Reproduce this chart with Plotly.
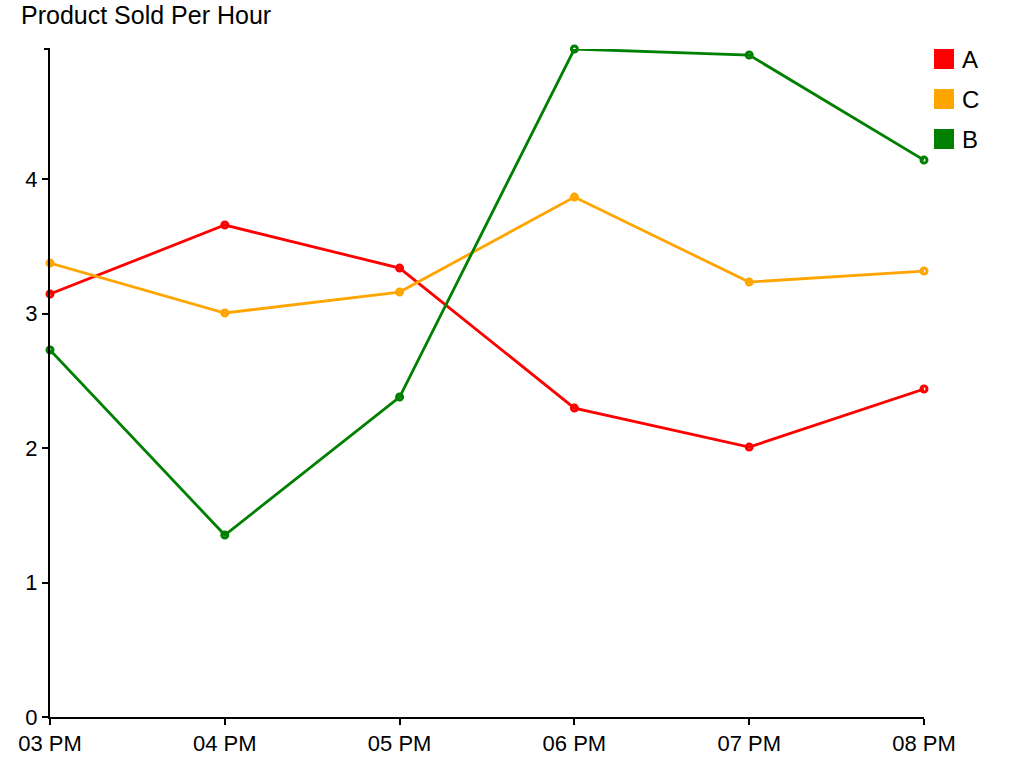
import plotly.graph_objects as go

hours = ["03 PM", "04 PM", "05 PM", "06 PM", "07 PM", "08 PM"]
series_names = ["A", "C", "B"]
values_a = [3.145, 3.658, 3.338, 2.297, 2.007, 2.439]
values_c = [3.375, 3.004, 3.160, 3.866, 3.234, 3.316]
values_b = [2.729, 1.353, 2.379, 4.967, 4.922, 4.141]
colors = ["#ff0000", "#ffa500", "#008000"]
y_ticks = [0, 1, 2, 3, 4]

all_vals = [values_a, values_c, values_b]
xs = list(range(len(hours)))

fig = go.Figure()
# markers underneath lines
for name, vals, col in zip(series_names, all_vals, colors):
    fig.add_trace(go.Scatter(
        x=xs, y=vals, mode="markers", showlegend=False, cliponaxis=False,
        marker=dict(symbol="circle", size=6, color="white", line=dict(color=col, width=3)),
        hoverinfo="skip"))
for name, vals, col in zip(series_names, all_vals, colors):
    fig.add_trace(go.Scatter(
        x=xs, y=vals, mode="lines", name=name, showlegend=False, cliponaxis=False,
        line=dict(color=col, width=2.8)))

shapes = []
annotations = []
# y-axis outer tick at top of domain
shapes.append(dict(type="line", xref="paper", yref="paper", xsizemode="pixel", xanchor=0,
                   x0=-6, x1=0, y0=1, y1=1, line=dict(color="black", width=2)))
# legend
for i, (name, col) in enumerate(zip(series_names, colors)):
    off = 40 * i
    shapes.append(dict(type="rect", xref="paper", yref="paper",
                       xsizemode="pixel", ysizemode="pixel", xanchor=1, yanchor=1,
                       x0=10, x1=30, y0=-off, y1=-(off + 20),
                       fillcolor=col, line=dict(width=0)))
    annotations.append(dict(text=name, xref="paper", yref="paper", x=1, y=1,
                            xshift=36, yshift=-off - 10, xanchor="left", yanchor="middle",
                            showarrow=False, font=dict(size=24, color="black")))

fig.update_layout(
    width=1024, height=768,
    margin=dict(l=50, r=100, t=49, b=51),
    paper_bgcolor="white", plot_bgcolor="white",
    font=dict(family="Liberation Sans, Arial, sans-serif", color="black", size=18),
    title=dict(text="Product Sold Per Hour", x=21 / 1024, xanchor="left", y=1 - 15 / 768, yanchor="middle",
               font=dict(size=25, color="black")),
    shapes=shapes, annotations=annotations,
    xaxis=dict(range=[0, 5], tickmode="array", tickvals=xs, ticktext=hours,
               showgrid=False, zeroline=False, showline=True, linecolor="black", linewidth=2,
               ticks="outside", ticklen=6, tickwidth=2, tickcolor="black",
               tickfont=dict(size=22)),
    yaxis=dict(range=[0, max(values_b)], tickmode="array", tickvals=y_ticks,
               showgrid=False, zeroline=False, showline=True, linecolor="black", linewidth=2,
               ticks="outside", ticklen=6, tickwidth=2, tickcolor="black",
               tickfont=dict(size=22)),
)

fig.write_html("out.html")
